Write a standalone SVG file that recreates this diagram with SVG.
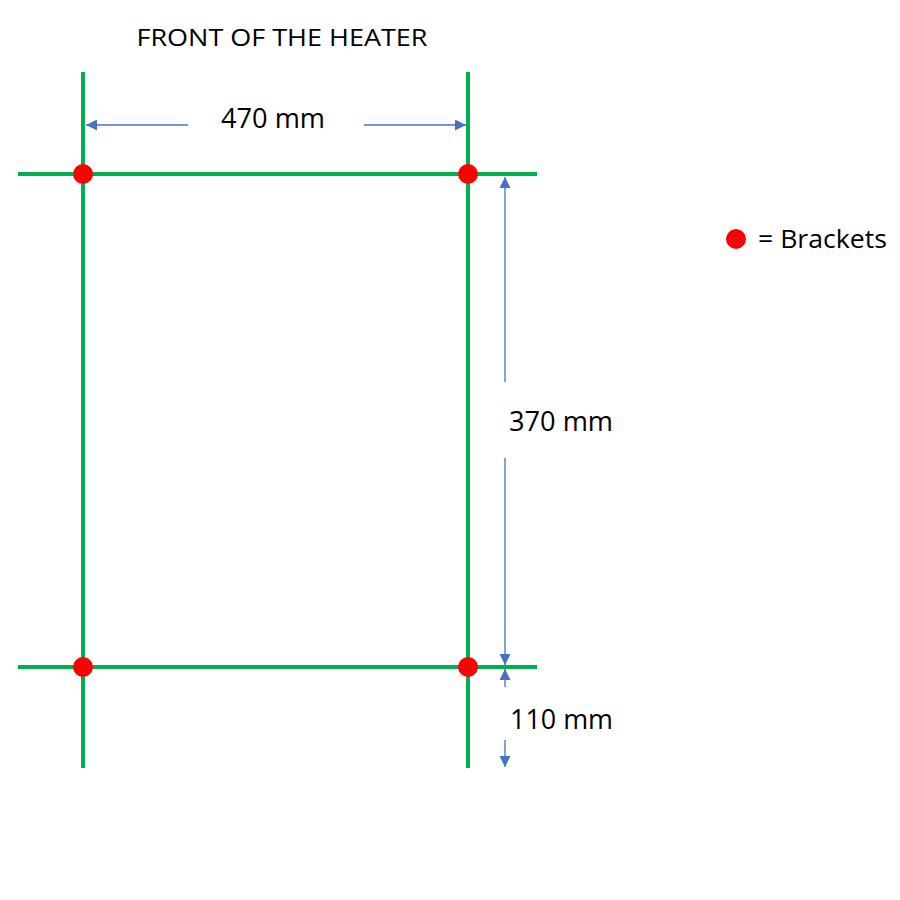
<svg xmlns="http://www.w3.org/2000/svg" width="900" height="900" viewBox="0 0 900 900">
<defs>
<style>
.g{stroke:#00B050;stroke-width:4;fill:none}
.d{stroke:#4472C4;stroke-width:1.3;fill:none}
.b{fill:#FF0000}
.t{font-family:"Open Sans","Liberation Sans",sans-serif;fill:#000}
</style>
<marker id="ah" viewBox="0 0 10 10" refX="10" refY="5" markerWidth="11" markerHeight="11" markerUnits="userSpaceOnUse" orient="auto">
<path d="M0,0 L10,5 L0,10 z" fill="#4472C4"/>
</marker>
</defs>
<rect width="900" height="900" fill="#fff"/>
<text class="t" x="282" y="46" font-size="24" text-anchor="middle" textLength="291" lengthAdjust="spacingAndGlyphs">FRONT OF THE HEATER</text>
<g id="frame">
<line class="g" x1="83" y1="72" x2="83" y2="768"/>
<line class="g" x1="468" y1="72" x2="468" y2="768"/>
<line class="g" x1="18" y1="174" x2="537" y2="174"/>
<line class="g" x1="18" y1="667" x2="537" y2="667"/>
</g>
<g id="connectors">
<line class="d" x1="188" y1="125" x2="86" y2="125" marker-end="url(#ah)"/>
<line class="d" x1="364" y1="125" x2="466" y2="125" marker-end="url(#ah)"/>
<line class="d" x1="505" y1="382" x2="505" y2="177" marker-end="url(#ah)"/>
<line class="d" x1="505" y1="458" x2="505" y2="665" marker-end="url(#ah)"/>
<line class="d" x1="505" y1="687" x2="505" y2="669" marker-end="url(#ah)"/>
<line class="d" x1="505" y1="740" x2="505" y2="767" marker-end="url(#ah)"/>
</g>
<g id="brackets">
<circle class="b" cx="83" cy="174" r="10"/>
<circle class="b" cx="468" cy="174" r="10"/>
<circle class="b" cx="83" cy="667" r="10"/>
<circle class="b" cx="468" cy="667" r="10"/>
</g>
<g id="labels">
<text class="t" x="221" y="128" font-size="27" textLength="104" lengthAdjust="spacingAndGlyphs">470 mm</text>
<text class="t" x="509" y="431" font-size="27" textLength="104" lengthAdjust="spacingAndGlyphs">370 mm</text>
<text class="t" x="510" y="729" font-size="27" textLength="103" lengthAdjust="spacingAndGlyphs">110 mm</text>
</g>
<g id="legend">
<circle class="b" cx="736" cy="239" r="10"/>
<text class="t" x="758" y="248" font-size="26" textLength="129" lengthAdjust="spacingAndGlyphs">= Brackets</text>
</g>
</svg>
